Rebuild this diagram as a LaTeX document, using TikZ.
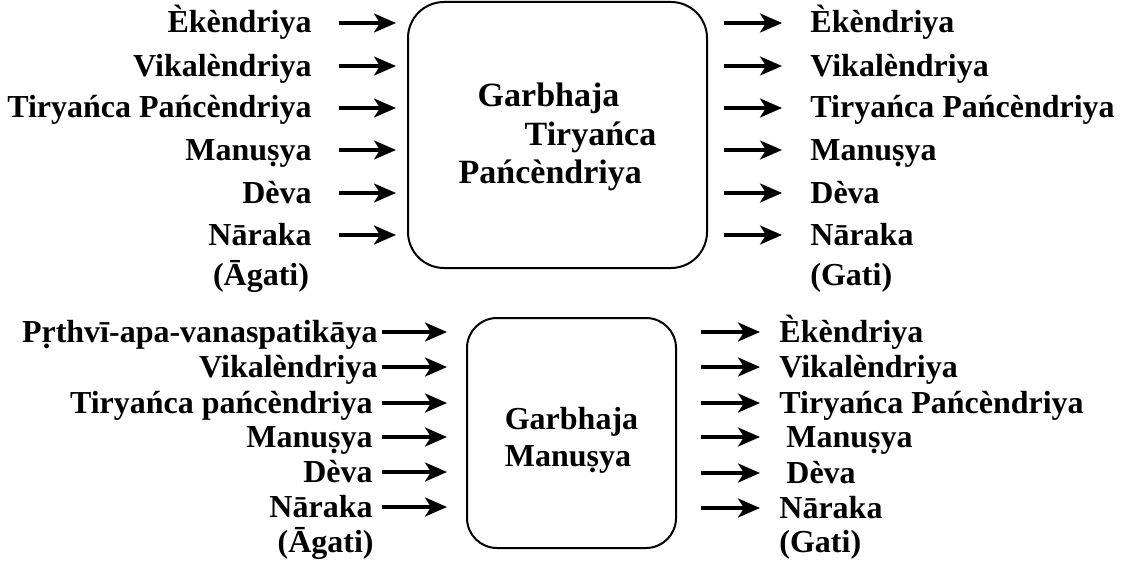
\documentclass[tikz,border=0pt]{standalone}
\usepackage{fontspec}
\setmainfont{Liberation Serif}
\usetikzlibrary{arrows.meta,positioning}

\begin{document}
\begin{tikzpicture}[
    x=0.5pt, y=-0.5pt,
    >={Stealth[length=11pt,width=9.5pt,inset=3pt]},
    lbl/.style={inner sep=0pt, font=\fontsize{16}{19}\selectfont\bfseries, text height=11pt, text depth=1pt},
    rbox/.style={draw, line width=1pt, inner sep=0pt},
    boxtxt/.style={inner sep=0pt, align=left, font=\fontsize{17}{19.25}\selectfont\bfseries},
    arr/.style={->, line width=1.6pt},
]
\useasboundingbox (0,0) rectangle (1122,567);

% upper block
\node[rbox, rounded corners=18pt, minimum width=149.5pt, minimum height=133pt] (tbox) at (557.5,135) {};
\node[boxtxt] (ttxt) at ([yshift=-1pt]tbox.center) {\hspace*{9.5pt}Garbhaja\\\hspace*{33pt}Tiryańca\\Pańcèndriya};
\coordinate (tls) at (339,0);
\coordinate (tre) at (782,0);

\node[lbl, anchor=base east] (ta1) at (312,33) {Èkèndriya};
\node[lbl, anchor=base east] (ta2) at (312,76) {Vikalèndriya};
\node[lbl, anchor=base east] (ta3) at (312,118) {Tiryańca Pańcèndriya};
\node[lbl, anchor=base east] (ta4) at (312,160) {Manuṣya};
\node[lbl, anchor=base east] (ta5) at (312,203) {Dèva};
\node[lbl, anchor=base east] (ta6) at (312,245) {Nāraka};
\node[lbl, anchor=base] (tagati) at (261,285) {(Āgati)};

\node[lbl, anchor=base west] (tg1) at (810,33) {Èkèndriya};
\node[lbl, anchor=base west] (tg2) at (810,76) {Vikalèndriya};
\node[lbl, anchor=base west] (tg3) at (810,118) {Tiryańca Pańcèndriya};
\node[lbl, anchor=base west] (tg4) at (810,160) {Manuṣya};
\node[lbl, anchor=base west] (tg5) at (810,203) {Dèva};
\node[lbl, anchor=base west] (tg6) at (810,245) {Nāraka};
\node[lbl, anchor=base west] (tgati) at (810,285) {(Gati)};

\draw[arr, shorten >=5.5pt] (ta1.east -| tls) -- (tbox.west |- ta1.east);
\draw[arr, shorten >=5.5pt] (ta2.east -| tls) -- (tbox.west |- ta2.east);
\draw[arr, shorten >=5.5pt] (ta3.east -| tls) -- (tbox.west |- ta3.east);
\draw[arr, shorten >=5.5pt] (ta4.east -| tls) -- (tbox.west |- ta4.east);
\draw[arr, shorten >=5.5pt] (ta5.east -| tls) -- (tbox.west |- ta5.east);
\draw[arr, shorten >=5.5pt] (ta6.east -| tls) -- (tbox.west |- ta6.east);

\draw[arr, shorten <=8pt] (tbox.east |- tg1.west) -- (tg1.west -| tre);
\draw[arr, shorten <=8pt] (tbox.east |- tg2.west) -- (tg2.west -| tre);
\draw[arr, shorten <=8pt] (tbox.east |- tg3.west) -- (tg3.west -| tre);
\draw[arr, shorten <=8pt] (tbox.east |- tg4.west) -- (tg4.west -| tre);
\draw[arr, shorten <=8pt] (tbox.east |- tg5.west) -- (tg5.west -| tre);
\draw[arr, shorten <=8pt] (tbox.east |- tg6.west) -- (tg6.west -| tre);

% lower block
\node[rbox, rounded corners=15pt, minimum width=104.5pt, minimum height=115pt] (bbox) at (571.5,433) {};
\node[boxtxt, font=\fontsize{16}{18.5}\selectfont\bfseries] (btxt) at ([yshift=-3.5pt]bbox.center) {Garbhaja\\Manuṣya};
\coordinate (bls) at (382,0);
\coordinate (bre) at (760,0);

\node[lbl, anchor=base east] (ba1) at (378,342) {Pṛthvī-apa-vanaspatikāya};
\node[lbl, anchor=base east] (ba2) at (378,377) {Vikalèndriya};
\node[lbl, anchor=base east] (ba3) at (373,413) {Tiryańca pańcèndriya};
\node[lbl, anchor=base east] (ba4) at (373,447) {Manuṣya};
\node[lbl, anchor=base east] (ba5) at (373,482) {Dèva};
\node[lbl, anchor=base east] (ba6) at (373,517) {Nāraka};
\node[lbl, anchor=base east] (bagati) at (374,552) {(Āgati)};

\node[lbl, anchor=base west] (bg1) at (779,342) {Èkèndriya};
\node[lbl, anchor=base west] (bg2) at (779,377) {Vikalèndriya};
\node[lbl, anchor=base west] (bg3) at (779,413) {Tiryańca Pańcèndriya};
\node[lbl, anchor=base west] (bg4) at (786,447) {Manuṣya};
\node[lbl, anchor=base west] (bg5) at (786,483) {Dèva};
\node[lbl, anchor=base west] (bg6) at (779,518) {Nāraka};
\node[lbl, anchor=base west] (bgati) at (779,552) {(Gati)};

\draw[arr, shorten >=9.5pt] (ba1.east -| bls) -- (bbox.west |- ba1.east);
\draw[arr, shorten >=9.5pt] (ba2.east -| bls) -- (bbox.west |- ba2.east);
\draw[arr, shorten >=9.5pt] (ba3.east -| bls) -- (bbox.west |- ba3.east);
\draw[arr, shorten >=9.5pt] (ba4.east -| bls) -- (bbox.west |- ba4.east);
\draw[arr, shorten >=9.5pt] (ba5.east -| bls) -- (bbox.west |- ba5.east);
\draw[arr, shorten >=9.5pt] (ba6.east -| bls) -- (bbox.west |- ba6.east);

\draw[arr, shorten <=12pt] (bbox.east |- bg1.west) -- (bg1.west -| bre);
\draw[arr, shorten <=12pt] (bbox.east |- bg2.west) -- (bg2.west -| bre);
\draw[arr, shorten <=12pt] (bbox.east |- bg3.west) -- (bg3.west -| bre);
\draw[arr, shorten <=12pt] (bbox.east |- bg4.west) -- (bg4.west -| bre);
\draw[arr, shorten <=12pt] (bbox.east |- bg5.west) -- (bg5.west -| bre);
\draw[arr, shorten <=12pt] (bbox.east |- bg6.west) -- (bg6.west -| bre);

\end{tikzpicture}
\end{document}
